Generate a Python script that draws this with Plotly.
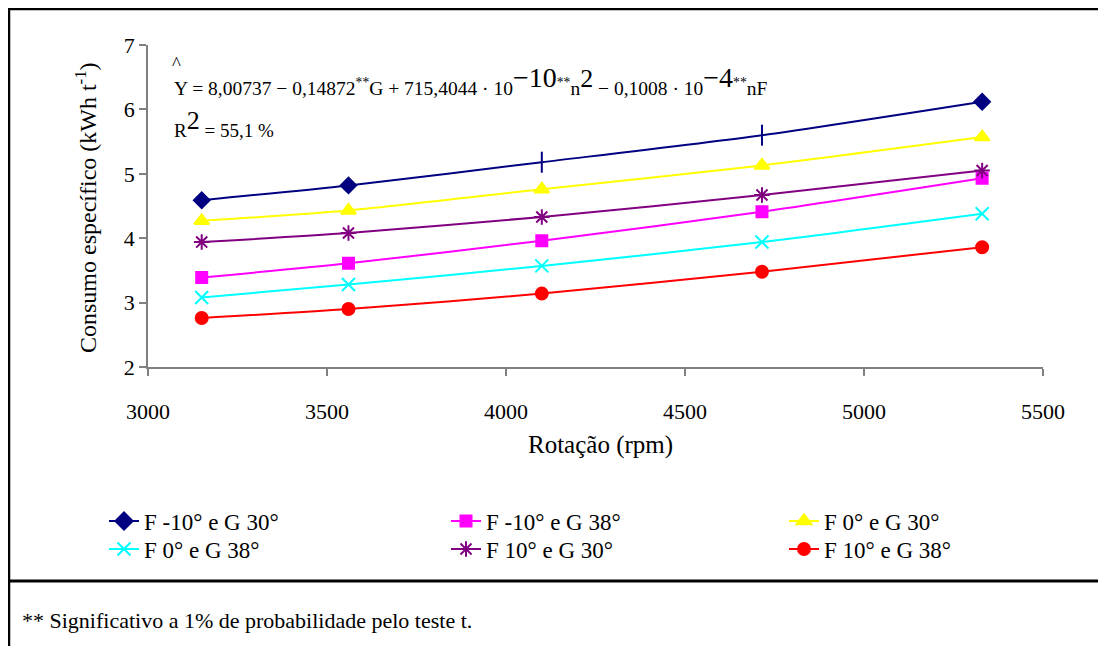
import plotly.graph_objects as go

rpm = [3150, 3560, 4100, 4715, 5330]

series_names = ["F -10° e G 30°", "F -10° e G 38°", "F 0° e G 30°",
                "F 0° e G 38°", "F 10° e G 30°", "F 10° e G 38°"]
f_m10_g30 = [4.59, 4.82, 5.18, 5.60, 6.12]
f_m10_g38 = [3.39, 3.61, 3.96, 4.41, 4.93]
f_0_g30 = [4.27, 4.43, 4.76, 5.13, 5.57]
f_0_g38 = [3.08, 3.28, 3.57, 3.94, 4.38]
f_10_g30 = [3.94, 4.08, 4.33, 4.67, 5.05]
f_10_g38 = [2.76, 2.90, 3.14, 3.48, 3.86]

values = [f_m10_g30, f_m10_g38, f_0_g30, f_0_g38, f_10_g30, f_10_g38]
colors = ["#000080", "#FF00FF", "#FFFF00", "#00FFFF", "#800080", "#FF0000"]
symbols = [["diamond", "diamond", "line-ns", "line-ns", "diamond"],
           "square", "triangle-up", "x-thin", "asterisk", "circle"]
sizes = [[12, 12, 15, 15, 12], 11, 13, 13, 13, 12]

FONT = "Liberation Serif"
W_FIG, H_FIG = 1106, 646
L, R, T, B = 140, 1035, 37, 359


def px(x):
    return (x - L) / (R - L)


def py(y):
    return (B - y) / (B - T)


fig = go.Figure()
legend_ids = ["legend", "legend2", "legend3", "legend4", "legend5", "legend6"]
for i, name in enumerate(series_names):
    fig.add_trace(go.Scatter(
        x=rpm, y=values[i], name=name, mode="lines+markers",
        line=dict(color=colors[i], width=2, shape="spline", smoothing=0.7),
        marker=dict(symbol=symbols[i], size=sizes[i], color=colors[i], opacity=1,
                    line=dict(color=colors[i], width=2)),
        legend=legend_ids[i], showlegend=True,
    ))

# legend positions (left x, row center y) in pixels
leg_pos = [(96, 513), (438, 513), (776, 513),
           (96, 541), (438, 541), (776, 541)]
layout_legends = {}
for i, lid in enumerate(legend_ids):
    x0, y0 = leg_pos[i]
    layout_legends[lid] = dict(
        x=px(x0), y=py(y0), xref="paper", yref="paper",
        xanchor="left", yanchor="middle", bgcolor="rgba(0,0,0,0)",
        font=dict(family=FONT, size=23, color="black"),
        orientation="v", borderwidth=0,
    )

fig.update_layout(
    width=W_FIG, height=H_FIG,
    margin=dict(l=L, r=W_FIG - R, t=T, b=H_FIG - B, autoexpand=False),
    paper_bgcolor="white", plot_bgcolor="white",
    font=dict(family=FONT, size=22, color="black"),
    **layout_legends,
)

fig.update_xaxes(range=[3000, 5500], tickvals=[3000, 3500, 4000, 4500, 5000, 5500],
                 showline=True, linecolor="#808080", linewidth=1.5,
                 ticks="outside", ticklen=7, tickcolor="#808080", tickwidth=1.5,
                 showgrid=False, zeroline=False, ticklabelstandoff=17,
                 automargin=False,
                 tickfont=dict(family=FONT, size=22, color="black"))
fig.update_yaxes(range=[2, 7], tickvals=[2, 3, 4, 5, 6, 7],
                 showline=True, linecolor="#808080", linewidth=1.5,
                 ticks="outside", ticklen=7, tickcolor="#808080", tickwidth=1.5,
                 showgrid=False, zeroline=False, ticklabelstandoff=0,
                 automargin=False,
                 tickfont=dict(family=FONT, size=22, color="black"))

ann = []
# axis titles
ann.append(dict(text="Consumo específico (kWh t<sup>-1</sup>)", x=px(78), y=py(200),
                xref="paper", yref="paper", textangle=-90, showarrow=False,
                xanchor="center", yanchor="middle",
                font=dict(family=FONT, size=24, color="black")))
ann.append(dict(text="Rotação (rpm)", x=px(592), y=py(437), xref="paper", yref="paper",
                xanchor="center", yanchor="middle", showarrow=False,
                font=dict(family=FONT, size=25, color="black")))
# equation
ann.append(dict(text="^", x=px(168), y=py(56), xref="paper", yref="paper",
                xanchor="center", yanchor="middle", showarrow=False,
                font=dict(family=FONT, size=19, color="black")))
eq = ("Y = 8,00737 − 0,14872<sup>**</sup>G + 715,4044 · 10"
      "<sup><span style='font-size:28px'>−10</span>**</sup>n"
      "<sup><span style='font-size:26px'>2</span></sup> − 0,1008 · 10"
      "<sup><span style='font-size:28px'>−4</span>**</sup>nF")
ann.append(dict(text=eq, x=px(164), y=py(72), xref="paper", yref="paper",
                xanchor="left", yanchor="middle", showarrow=False,
                font=dict(family=FONT, size=19.5, color="black")))
ann.append(dict(text="R<sup><span style='font-size:26px'>2</span></sup> = 55,1 %",
                x=px(164), y=py(115), xref="paper", yref="paper",
                xanchor="left", yanchor="middle", showarrow=False,
                font=dict(family=FONT, size=19, color="black")))
# footnote
ann.append(dict(text="** Significativo a 1% de probabilidade pelo teste t.",
                x=px(12), y=py(612), xref="paper", yref="paper",
                xanchor="left", yanchor="middle", showarrow=False,
                font=dict(family=FONT, size=22, color="black")))
fig.update_layout(annotations=ann)

# outer frame and divider
fig.add_shape(type="rect", xref="paper", yref="paper",
              x0=px(1), x1=px(1115), y0=py(1), y1=py(660),
              line=dict(color="black", width=2.5), layer="above")
fig.add_shape(type="line", xref="paper", yref="paper",
              x0=px(1), x1=px(1115), y0=py(573), y1=py(573),
              line=dict(color="black", width=3), layer="above")

fig.write_html("out.html")
